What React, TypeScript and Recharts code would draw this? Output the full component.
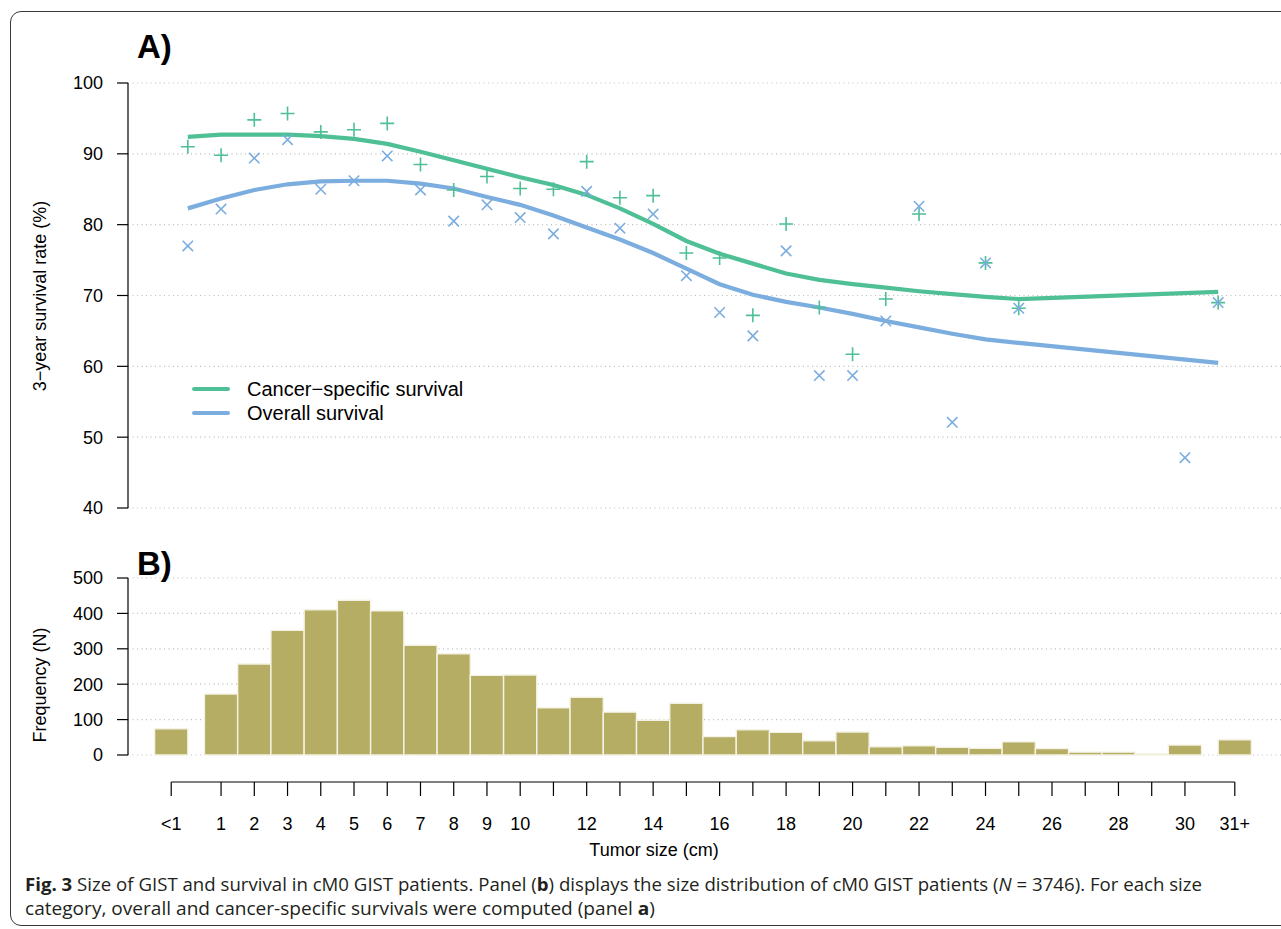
import React from 'react';
import {
  ComposedChart, Line, Scatter, Bar, XAxis, YAxis, CartesianGrid, ReferenceLine, Legend,
} from 'recharts';

// ---- Panel A: survival curves (fitted) ----
const curveSizes = [0, 1, 2, 3, 4, 5, 6, 7, 8, 9, 10, 11, 12, 13, 14, 15, 16, 17, 18, 19, 20, 21, 22, 23, 24, 25, 31];
const cssCurve = [92.4, 92.7, 92.7, 92.7, 92.5, 92.1, 91.4, 90.3, 89.1, 87.9, 86.7, 85.6, 84.2, 82.3, 80.1, 77.7, 75.9, 74.5, 73.1, 72.2, 71.6, 71.1, 70.6, 70.2, 69.8, 69.5, 70.5];
const osCurve = [82.3, 83.7, 84.9, 85.7, 86.1, 86.2, 86.2, 85.8, 85.1, 83.9, 82.8, 81.3, 79.6, 77.9, 76.0, 73.8, 71.6, 70.1, 69.1, 68.3, 67.4, 66.4, 65.5, 64.6, 63.8, 63.3, 60.5];

// ---- Panel A: observed survival per size category ----
const cssPointSizes = [0, 1, 2, 3, 4, 5, 6, 7, 8, 9, 10, 11, 12, 13, 14, 15, 16, 17, 18, 19, 20, 21, 22, 24, 25, 31];
const cssPointValues = [91.0, 89.8, 94.8, 95.7, 93.1, 93.4, 94.3, 88.5, 84.9, 86.8, 85.1, 85.0, 88.9, 83.8, 84.1, 76.0, 75.3, 67.2, 80.1, 68.3, 61.7, 69.5, 81.5, 74.6, 68.2, 69.0];
const osPointSizes = [0, 1, 2, 3, 4, 5, 6, 7, 8, 9, 10, 11, 12, 13, 14, 15, 16, 17, 18, 19, 20, 21, 22, 23, 24, 25, 30, 31];
const osPointValues = [77.0, 82.2, 89.4, 92.0, 85.0, 86.2, 89.7, 84.9, 80.5, 82.8, 81.0, 78.7, 84.7, 79.5, 81.5, 72.8, 67.6, 64.3, 76.3, 58.7, 58.7, 66.4, 82.6, 52.1, 74.6, 68.2, 47.1, 69.0];

const survivalTicks = [40, 50, 60, 70, 80, 90, 100];

// ---- Panel B: histogram ----
const histLabels = ['<1', '1', '2', '3', '4', '5', '6', '7', '8', '9', '10', '11', '12', '13', '14', '15', '16', '17', '18', '19', '20', '21', '22', '23', '24', '25', '26', '27', '28', '29', '30', '31+'];
const histPositions = [-0.5, 1, 2, 3, 4, 5, 6, 7, 8, 9, 10, 11, 12, 13, 14, 15, 16, 17, 18, 19, 20, 21, 22, 23, 24, 25, 26, 27, 28, 29, 30, 31.5];
const histCounts = [74, 172, 257, 352, 410, 437, 407, 310, 286, 225, 226, 133, 163, 121, 98, 146, 52, 71, 64, 40, 65, 23, 26, 22, 19, 37, 18, 8, 8, 4, 28, 43];
const hiddenTickLabels = ['11', '13', '15', '17', '19', '21', '23', '25', '27', '29'];
const freqTicks = [0, 100, 200, 300, 400, 500];

const seriesNames = ['Cancer\u2212specific survival', 'Overall survival'];

const GREEN = '#4fbf95';
const BLUE = '#7badde';
const OLIVE = '#b5ad64';
const GRID = '#bdbdbd';

const X_DOMAIN: [number, number] = [-1.8, 32.89];
const FREQ_DOMAIN: [number, number] = [-76.27, 500];

const cssLine = curveSizes.map((x, i) => ({ x, y: cssCurve[i] }));
const osLine = curveSizes.map((x, i) => ({ x, y: osCurve[i] }));
const cssPts = cssPointSizes.map((x, i) => ({ x, y: cssPointValues[i] }));
const osPts = osPointSizes.map((x, i) => ({ x, y: osPointValues[i] }));
const histData = histPositions.map((x, i) => ({ x, count: histCounts[i], label: histLabels[i] }));

const PlusShape = (p: any) => {
  const { cx, cy } = p;
  if (cx == null || cy == null) return <g />;
  const r = 7;
  return (
    <path d={`M${cx - r},${cy}H${cx + r}M${cx},${cy - r}V${cy + r}`} stroke={GREEN} strokeWidth={1.6} fill="none" />
  );
};
const CrossShape = (p: any) => {
  const { cx, cy } = p;
  if (cx == null || cy == null) return <g />;
  const r = 5.2;
  return (
    <path d={`M${cx - r},${cy - r}L${cx + r},${cy + r}M${cx - r},${cy + r}L${cx + r},${cy - r}`} stroke={BLUE} strokeWidth={1.6} fill="none" />
  );
};

const LegendContent = () => (
  <div style={{ fontFamily: '"Liberation Sans", Arial, sans-serif', fontSize: 20, color: '#000' }}>
    {seriesNames.map((n, i) => (
      <div key={n} style={{ display: 'flex', alignItems: 'center', height: 24 }}>
        <div style={{ width: 38, height: 4, borderRadius: 2, background: i === 0 ? GREEN : BLUE, marginRight: 17 }} />
        <span style={{ lineHeight: '24px' }}>{n}</span>
      </div>
    ))}
  </div>
);

const tickStyle = { fontSize: 18, fill: '#000' };

export default function App() {
  return (
    <div
      style={{
        position: 'absolute', left: 0, top: 0, width: 1281, height: 929, overflow: 'hidden',
        background: '#fff', fontFamily: '"Liberation Sans", Arial, Helvetica, sans-serif',
      }}
    >
      {/* outer rounded frame */}
      <div
        style={{
          position: 'absolute', left: 10, top: 11, width: 1320, height: 915,
          border: '1.5px solid #3a3a3a', borderRadius: 11, boxSizing: 'border-box',
        }}
      />

      {/* Panel A */}
      <div style={{ position: 'absolute', left: 0, top: 0 }}>
        <ComposedChart width={1281} height={520} margin={{ top: 83, right: 0, left: 0, bottom: 12 }}>
          <CartesianGrid horizontal vertical={false} syncWithTicks stroke={GRID} strokeDasharray="1 3.5" strokeWidth={1.2} />
          <XAxis type="number" dataKey="x" domain={X_DOMAIN} allowDataOverflow hide />
          <YAxis
            type="number" domain={[40, 100]} ticks={survivalTicks} width={128}
            tickSize={11} tickMargin={14} tick={tickStyle}
            axisLine={{ stroke: '#000', strokeWidth: 1.2 }} tickLine={{ stroke: '#000', strokeWidth: 1.2 }}
          />
          <Scatter data={cssPts} dataKey="y" shape={PlusShape} isAnimationActive={false} />
          <Scatter data={osPts} dataKey="y" shape={CrossShape} isAnimationActive={false} />
          <Line data={cssLine} dataKey="y" type="linear" stroke={GREEN} strokeWidth={4.2} dot={false} activeDot={false} isAnimationActive={false} />
          <Line data={osLine} dataKey="y" type="linear" stroke={BLUE} strokeWidth={4.2} dot={false} activeDot={false} isAnimationActive={false} />
          <Legend
            layout="horizontal" verticalAlign="middle" align="center" width={320}
            wrapperStyle={{ left: 192, top: 377, width: 320 }}
            content={<LegendContent />}
          />
        </ComposedChart>
      </div>

      {/* Panel B */}
      <div style={{ position: 'absolute', left: 0, top: 560 }}>
        <ComposedChart width={1281} height={300} data={histData} margin={{ top: 18, right: 0, left: 0, bottom: 0 }}>
          <CartesianGrid horizontal vertical={false} syncWithTicks stroke={GRID} strokeDasharray="1 3.5" strokeWidth={1.2} />
          <XAxis
            type="number" dataKey="x" domain={X_DOMAIN} allowDataOverflow ticks={histPositions} interval={0}
            height={78} tickSize={14} tickMargin={21} tick={tickStyle}
            axisLine={false} tickLine={{ stroke: '#000', strokeWidth: 1.2 }}
            tickFormatter={(v: number) => {
              const i = histPositions.indexOf(v);
              const l = i >= 0 ? histLabels[i] : '';
              return hiddenTickLabels.includes(l) ? '' : l;
            }}
          />
          <YAxis
            type="number" domain={FREQ_DOMAIN} allowDataOverflow ticks={freqTicks} width={128}
            tickSize={11} tickMargin={14} tick={tickStyle}
            axisLine={false} tickLine={{ stroke: '#000', strokeWidth: 1.2 }}
          />
          <Bar dataKey="count" barSize={33.2} fill={OLIVE} stroke="#f4f2e4" strokeWidth={1.4} isAnimationActive={false} />
          <ReferenceLine
            segment={[{ x: X_DOMAIN[0], y: freqTicks[0] }, { x: X_DOMAIN[0], y: freqTicks[freqTicks.length - 1] }]}
            stroke="#000" strokeWidth={1.2} ifOverflow="visible"
          />
          <ReferenceLine
            segment={[{ x: histPositions[0], y: FREQ_DOMAIN[0] }, { x: histPositions[histPositions.length - 1], y: FREQ_DOMAIN[0] }]}
            stroke="#000" strokeWidth={1.2} ifOverflow="visible"
          />
        </ComposedChart>
      </div>

      {/* titles, axis titles and caption */}
      <svg
        width={1281} height={929}
        style={{ position: 'absolute', left: 0, top: 0, pointerEvents: 'none' }}
      >
        <text x={137} y={58} fontSize={33} fontWeight="bold" fill="#000">A)</text>
        <text x={137} y={575} fontSize={33} fontWeight="bold" fill="#000">B)</text>
        <text transform="translate(46,296) rotate(-90)" textAnchor="middle" fontSize={18} fill="#000">
          3{'\u2212'}year survival rate (%)
        </text>
        <text transform="translate(46,685) rotate(-90)" textAnchor="middle" fontSize={18} fill="#000">
          Frequency (N)
        </text>
        <text x={654} y={856} textAnchor="middle" fontSize={18} fill="#000">Tumor size (cm)</text>
        <text
          x={25} y={891} fontSize={18} fill="#231f20" fontFamily='"Open Sans", "Noto Sans", sans-serif'
          textLength={1177} lengthAdjust="spacingAndGlyphs"
        >
          <tspan fontWeight="bold">Fig. 3</tspan> Size of GIST and survival in cM0 GIST patients. Panel (<tspan fontWeight="bold">b</tspan>) displays the size distribution of cM0 GIST patients (<tspan fontStyle="italic">N</tspan> = 3746). For each size
        </text>
        <text
          x={25} y={915} fontSize={18} fill="#231f20" fontFamily='"Open Sans", "Noto Sans", sans-serif'
          textLength={630} lengthAdjust="spacingAndGlyphs"
        >
          category, overall and cancer-specific survivals were computed (panel <tspan fontWeight="bold">a</tspan>)
        </text>
      </svg>
    </div>
  );
}
